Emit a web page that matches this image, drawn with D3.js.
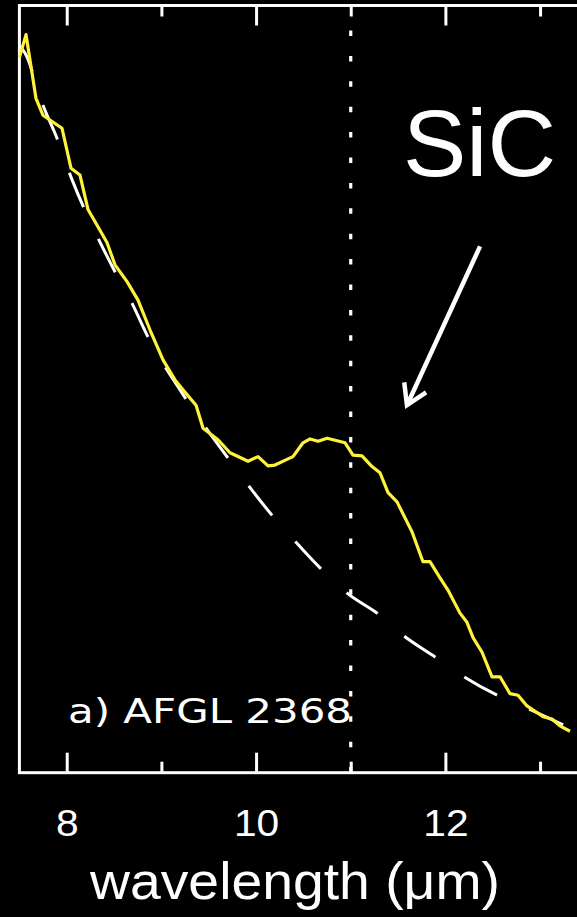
<!DOCTYPE html>
<html>
<head>
<meta charset="utf-8">
<script src="https://cdn.jsdelivr.net/npm/d3@7"></script>
<style>
  html, body { margin: 0; padding: 0; background: #000; }
  svg { display: block; }
</style>
</head>
<body>
<svg id="chart" width="577" height="917"></svg>
<script>
// AFGL 2368 mid-IR spectrum (relative flux) with the adopted continuum
const specWave = [7.50, 7.57, 7.675, 7.749, 7.95, 8.045, 8.14, 8.225, 8.425, 8.51, 8.637, 8.753,
  8.88, 9.017, 9.144, 9.228, 9.366, 9.44, 9.598, 9.725, 9.915, 10.021, 10.126, 10.20, 10.338,
  10.39, 10.496, 10.57, 10.655, 10.75, 10.94, 11.024, 11.119, 11.225, 11.309, 11.394, 11.489,
  11.647, 11.763, 11.837, 11.943, 12.027, 12.154, 12.228, 12.292, 12.387, 12.492, 12.577,
  12.682, 12.767, 12.862, 12.925, 13.031, 13.126, 13.21, 13.316];
const specFlux = [93.2, 96.2, 87.9, 85.7, 84.0, 78.8, 77.9, 73.4, 69.1, 66.2, 64.0, 61.6,
  57.7, 53.8, 51.2, 49.9, 47.9, 44.9, 43.4, 41.7, 40.6, 41.2, 40.0, 40.1, 40.9,
  41.2, 43.0, 43.5, 43.2, 43.6, 43.0, 41.4, 41.3, 39.9, 39.1, 36.5, 35.3,
  31.4, 27.5, 27.5, 25.4, 23.8, 20.8, 19.6, 17.6, 15.7, 12.5, 12.5,
  10.3, 10.1, 8.7, 8.2, 7.3, 7.0, 6.1, 5.4];

const contWave = [7.506, 7.559, 7.749, 7.897, 8.056, 8.33, 8.51, 8.689, 8.858, 9.175, 9.461,
  9.693, 9.915, 10.2, 10.359, 10.676, 10.972, 11.289, 11.564, 11.902, 12.198, 12.547, 12.864, 13.265];
const contFlux = [94.7, 93.8, 87.0, 82.7, 77.3, 69.7, 65.3, 61.2, 56.8, 50.3, 45.1,
  41.2, 37.5, 33.1, 30.9, 26.7, 23.3, 20.7, 17.8, 15.0, 12.5, 10.1, 8.4, 6.1];

const majorTicks = [8, 10, 12];
const minorTicks = [9, 11, 13];
const featureWave = 11.0;          // SiC feature marker
const xLabel = "wavelength (\u03bcm)";
const panelLabel = "a) AFGL 2368";
const featureLabel = "SiC";
const arrowFrom = [12.366, 68.6];   // [wavelength, flux]
const arrowTo = [11.594, 47.9];

const svg = d3.select("#chart");
const W = 577, H = 917;
svg.append("rect").attr("width", W).attr("height", H).attr("fill", "#000");

const x = d3.scaleLinear().domain([7.5, 13.5]).range([19.4, 587.4]);
const y = d3.scaleLinear().domain([0, 100]).range([772.7, 5.5]);

const white = "#fff";

// frame
svg.append("rect")
  .attr("x", x(7.5)).attr("y", y(100))
  .attr("width", x(13.5) - x(7.5)).attr("height", y(0) - y(100))
  .attr("fill", "none").attr("stroke", white).attr("stroke-width", 3);

function styleAxis(g) {
  g.select(".domain").remove();
  g.selectAll(".tick line").attr("stroke", white).attr("stroke-width", 3);
  g.selectAll(".tick text").attr("fill", white)
    .attr("font-family", "Liberation Sans, Arial, sans-serif").attr("font-size", 37)
    .attr("transform", "scale(1.1,1)");
}

// bottom axis: major ticks with labels, minor ticks without
svg.append("g").attr("transform", `translate(0,${y(0)})`)
  .call(d3.axisBottom(x).tickValues(majorTicks).tickSizeInner(-20).tickSizeOuter(0)
    .tickPadding(37).tickFormat(d3.format("d")))
  .call(styleAxis);
svg.append("g").attr("transform", `translate(0,${y(0)})`)
  .call(d3.axisBottom(x).tickValues(minorTicks).tickSizeInner(-11).tickSizeOuter(0).tickFormat(""))
  .call(styleAxis);
// top axis
svg.append("g").attr("transform", `translate(0,${y(100)})`)
  .call(d3.axisTop(x).tickValues(majorTicks).tickSizeInner(-20).tickSizeOuter(0).tickFormat(""))
  .call(styleAxis);
svg.append("g").attr("transform", `translate(0,${y(100)})`)
  .call(d3.axisTop(x).tickValues(minorTicks).tickSizeInner(-11).tickSizeOuter(0).tickFormat(""))
  .call(styleAxis);

// dotted marker at the feature wavelength
svg.append("line")
  .attr("x1", x(featureWave)).attr("x2", x(featureWave))
  .attr("y1", y(100) + 25).attr("y2", y(0))
  .attr("stroke", white).attr("stroke-width", 3.2)
  .attr("stroke-dasharray", "5.5,19.9");

// continuum (dashed)
const cont = contWave.map((w, i) => [w, contFlux[i]]);
svg.append("path")
  .datum(cont)
  .attr("d", d3.line().x(d => x(d[0])).y(d => y(d[1])).curve(d3.curveMonotoneX))
  .attr("fill", "none").attr("stroke", white).attr("stroke-width", 3)
  .attr("stroke-dasharray", "37.5,35").attr("stroke-dashoffset", 9);

// spectrum
const spec = specWave.map((w, i) => [w, specFlux[i]]);
svg.append("path")
  .datum(spec)
  .attr("d", d3.line().x(d => x(d[0])).y(d => y(d[1])))
  .attr("fill", "none").attr("stroke", "#fff23c").attr("stroke-width", 3.2)
  .attr("stroke-linejoin", "round");

// arrow pointing at the excess
const ax0 = x(arrowFrom[0]), ay0 = y(arrowFrom[1]);
const ax1 = x(arrowTo[0]), ay1 = y(arrowTo[1]);
const ang = Math.atan2(ay1 - ay0, ax1 - ax0);
const headLen = 23, headSpread = 0.55;
svg.append("line")
  .attr("x1", ax0).attr("y1", ay0).attr("x2", ax1).attr("y2", ay1)
  .attr("stroke", white).attr("stroke-width", 4.5);
svg.append("path")
  .attr("d", `M${ax1 - headLen * Math.cos(ang - headSpread)},${ay1 - headLen * Math.sin(ang - headSpread)}
    L${ax1},${ay1}
    L${ax1 - headLen * Math.cos(ang + headSpread)},${ay1 - headLen * Math.sin(ang + headSpread)}`)
  .attr("fill", "none").attr("stroke", white).attr("stroke-width", 4.5)
  .attr("stroke-linejoin", "miter");

// labels
svg.append("text")
  .attr("x", 403).attr("y", 176)
  .attr("fill", white).attr("font-family", "Liberation Sans, Arial, sans-serif")
  .attr("font-size", 95).text(featureLabel);

svg.append("text")
  .attr("x", 68).attr("y", 723)
  .attr("fill", white).attr("font-family", "DejaVu Sans, sans-serif")
  .attr("font-size", 34).attr("textLength", 284).attr("lengthAdjust", "spacingAndGlyphs")
  .text(panelLabel);

svg.append("text")
  .attr("x", 90).attr("y", 899)
  .attr("fill", white).attr("font-family", "Liberation Sans, Arial, sans-serif")
  .attr("font-size", 52).attr("textLength", 410).attr("lengthAdjust", "spacingAndGlyphs")
  .text(xLabel);
</script>
</body>
</html>
